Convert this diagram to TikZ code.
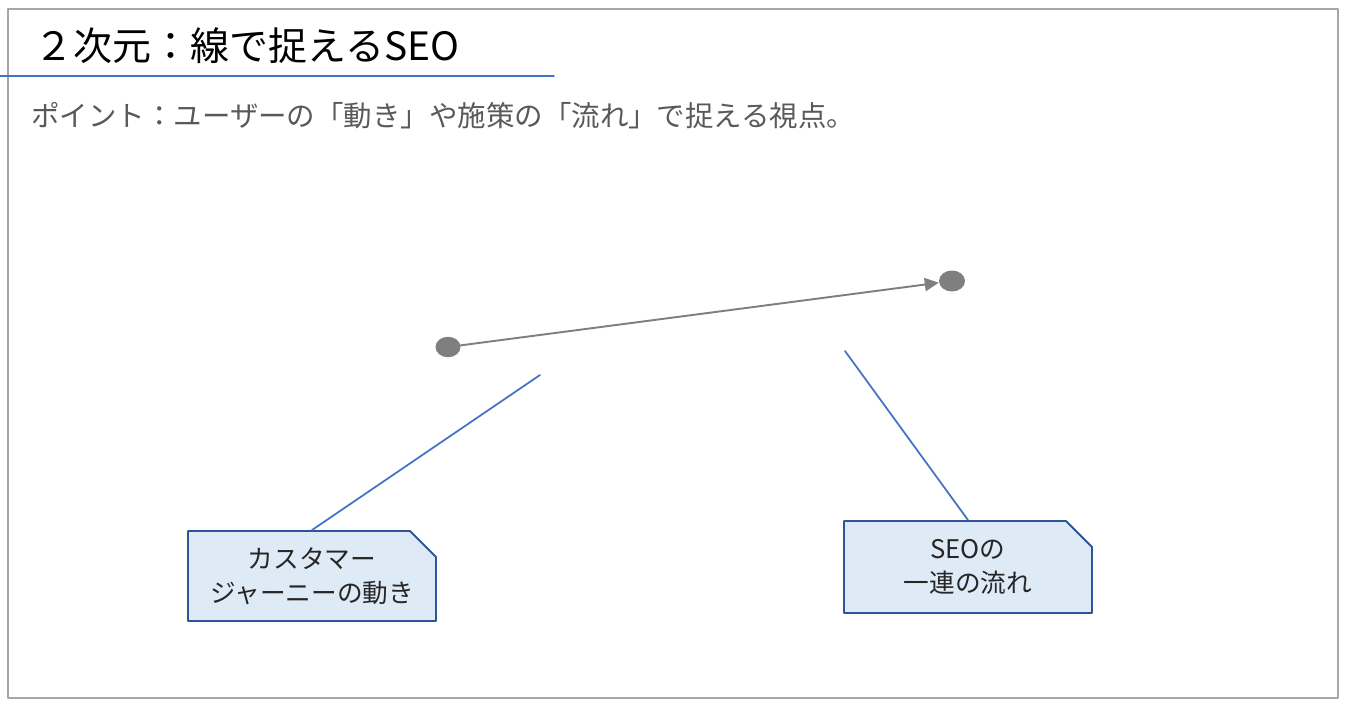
\documentclass[tikz,border=0pt]{standalone}
\usepackage{fontspec}
\setmainfont{Noto Sans CJK JP}
\usepackage{xcolor}
\usetikzlibrary{arrows.meta,shapes.geometric,shapes.misc}

\definecolor{frameGray}{HTML}{A6A6A6}
\definecolor{lineBlue}{HTML}{4472C4}
\definecolor{boxBlue}{HTML}{DEEBF7}
\definecolor{edgeBlue}{HTML}{2F5597}
\definecolor{dotGray}{HTML}{7F7F7F}
\definecolor{textGray}{HTML}{595959}

\tikzset{
    dot/.style={ellipse, fill=dotGray, inner sep=0pt, minimum width=0.5cm, minimum height=0.41cm},
    callout/.style={chamfered rectangle, chamfered rectangle corners=north east,
        chamfered rectangle xsep=0.26cm, chamfered rectangle ysep=0.26cm,
        draw=edgeBlue, fill=boxBlue, line width=1.1pt, minimum width=4.96cm,
        minimum height=1.8cm, align=center, inner sep=0pt,
        font=\fontsize{14.6pt}{19.5pt}\selectfont, text=black!85},
    leader/.style={lineBlue, line width=1pt},
}

\begin{document}
\begin{tikzpicture}[x=0.02cm, y=-0.02cm, line cap=round, line join=round]

% === MARCO ===
\useasboundingbox (0,0) rectangle (1346,708);
\draw[frameGray, line width=0.9pt] (8,9) rectangle (1338,698);

% === TITULO ===
\node[anchor=base west, inner sep=0pt, font=\fontsize{22.2pt}{26pt}\selectfont] (titulo) at (34,60) {２次元：線で捉えるSEO};
\draw[lineBlue, line width=1pt] (0,76) -- (554,76);
\node[anchor=base west, inner sep=0pt, text=textGray, font=\fontsize{16.2pt}{19pt}\selectfont] (punto) at (31,126) {ポイント：ユーザーの「動き」や施策の「流れ」で捉える視点。};

% === PUNTOS Y FLECHA ===
\node[dot] (inicio) at (448,347) {};
\node[dot, minimum width=0.52cm, minimum height=0.42cm] (fin) at (952,281) {};
\draw[dotGray, line width=1.1pt, -{Triangle[length=8pt, width=7.5pt]}] (inicio) -- (fin);

% === LLAMADAS ===
\node[callout] (viaje) at (312,576) {カスタマー\\ジャーニーの動き};
\coordinate (viajeRef) at (540,375);
\draw[leader] (viaje.north) -- (viajeRef);

\node[callout, minimum height=1.84cm] (flujo) at (968,567) {SEOの\\一連の流れ};
\coordinate (flujoRef) at (845,351);
\draw[leader] (flujo.north) -- (flujoRef);

\end{tikzpicture}
\end{document}
